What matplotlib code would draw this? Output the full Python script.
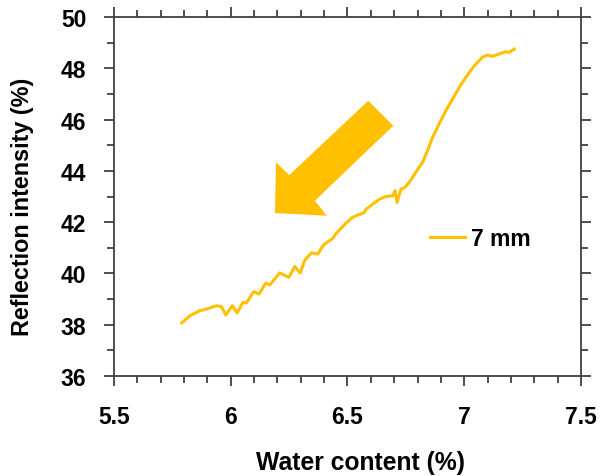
import matplotlib
matplotlib.use('Agg')
import matplotlib.pyplot as plt
from matplotlib.patches import Polygon
from matplotlib.ticker import MultipleLocator

plt.rcParams['font.family'] = ['Liberation Sans', 'DejaVu Sans']
plt.rcParams['font.weight'] = 'bold'

water_content = [5.79, 5.825, 5.868, 5.896, 5.939, 5.96, 5.979, 6.007, 6.027, 6.052,
                 6.067, 6.098, 6.121, 6.15, 6.167, 6.209, 6.249, 6.274, 6.298, 6.316,
                 6.345, 6.373, 6.397, 6.437, 6.451, 6.494, 6.522, 6.572, 6.58, 6.637,
                 6.665, 6.694, 6.704, 6.712, 6.729, 6.744, 6.765, 6.793, 6.822, 6.843,
                 6.865, 6.893, 6.922, 6.95, 6.979, 7.007, 7.043, 7.078, 7.1, 7.121,
                 7.15, 7.178, 7.192, 7.214]
reflection = [38.07, 38.35, 38.55, 38.61, 38.74, 38.71, 38.38, 38.74, 38.46, 38.87,
              38.85, 39.29, 39.20, 39.62, 39.55, 40.02, 39.85, 40.27, 40.02, 40.50,
              40.80, 40.76, 41.11, 41.37, 41.56, 41.97, 42.19, 42.38, 42.51, 42.90,
              43.0, 43.03, 43.23, 42.77, 43.29, 43.34, 43.56, 43.95, 44.34, 44.80,
              45.32, 45.84, 46.36, 46.80, 47.26, 47.65, 48.10, 48.43, 48.52, 48.47,
              48.56, 48.65, 48.62, 48.75]
series_label = '7 mm'
gold = '#FFC000'
axis_grey = '#404040'

fig = plt.figure(figsize=(6, 4.77), dpi=100)
ax = fig.add_axes([0.19, 0.2096, 0.7783, 0.7526])

ax.plot(water_content, reflection, color=gold, lw=2.2, label=series_label)

ax.set_xlim(5.5, 7.5)
ax.set_ylim(36, 50)
ax.xaxis.set_major_locator(MultipleLocator(0.5))
ax.xaxis.set_minor_locator(MultipleLocator(0.1))
ax.yaxis.set_major_locator(MultipleLocator(2))
ax.yaxis.set_minor_locator(MultipleLocator(1))
ax.set_xticks([5.5, 6, 6.5, 7, 7.5])
ax.set_xticklabels(['5.5', '6', '6.5', '7', '7.5'])

for s in ax.spines.values():
    s.set_color(axis_grey)
    s.set_linewidth(1.3)
ax.tick_params(which='both', direction='out', top=True, right=True,
               color=axis_grey, width=1.3)
ax.tick_params(which='major', length=7, labelsize=16.5)
ax.tick_params(which='minor', length=5)
ax.tick_params(axis='y', which='major', pad=13)
ax.tick_params(axis='x', which='major', pad=14)

ax.set_xlabel('Water content (%)', fontsize=17.8, fontweight='bold')
ax.set_ylabel('Reflection intensity (%)', fontsize=16.8, fontweight='bold')
ax.xaxis.set_label_coords(0.528, -0.205)
ax.yaxis.set_label_coords(-0.172, 0.475)

# big arrow drawn in axes fraction
arrow_px = [(368.3, 101.7), (393.3, 126.7), (315, 201.7), (326.7, 216.7),
            (275, 214), (276, 163.3), (289.3, 176)]
arrow_ax = [((x - 114) / 467, (377 - y) / 359) for x, y in arrow_px]
ax.add_patch(Polygon(arrow_ax, closed=True, transform=ax.transAxes,
                     facecolor=gold, edgecolor='none', zorder=3))

leg = ax.legend(loc='center left', bbox_to_anchor=(0.677, 0.382), frameon=False,
                fontsize=16.5, handlelength=1.5, handletextpad=0.3,
                borderpad=0, borderaxespad=0)
for t in leg.get_texts():
    t.set_fontweight('bold')

fig.savefig('out.png', dpi=100)
